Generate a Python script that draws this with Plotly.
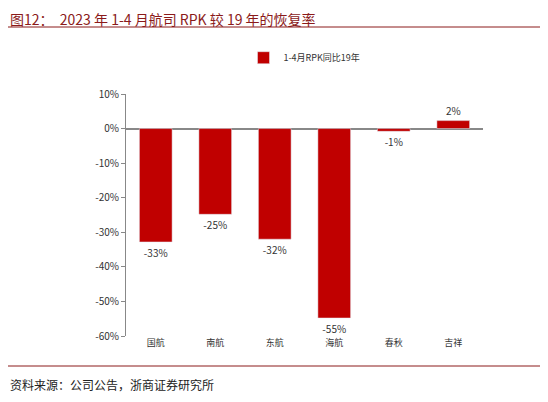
import plotly.graph_objects as go

categories = ["国航", "南航", "东航", "海航", "春秋", "吉祥"]
values = [-32.8, -24.8, -32.0, -54.8, -0.8, 2.3]
labels = ["-33%", "-25%", "-32%", "-55%", "-1%", "2%"]
tickvals = [10, 0, -10, -20, -30, -40, -50, -60]
ticktext = ["10%", "0%", "-10%", "-20%", "-30%", "-40%", "-50%", "-60%"]

fig = go.Figure(go.Bar(
    x=categories, y=values, name="1-4月RPK同比19年",
    marker_color="#C00000", width=0.55,
    text=labels, textposition="outside", cliponaxis=False,
    textfont=dict(size=10, color="#333"), showlegend=True))

fig.update_layout(
    width=548, height=402, paper_bgcolor="white", plot_bgcolor="white",
    margin=dict(l=118, r=73, t=86, b=74),
    font=dict(family="Noto Sans CJK SC", size=10, color="#333"),
    legend=dict(orientation="h", x=0.5, xanchor="center", y=1.15, yanchor="middle",
                font=dict(size=9)),
    xaxis=dict(showline=False, ticks="", tickfont=dict(size=9)),
    yaxis=dict(range=[-60, 10], tickvals=tickvals, ticktext=ticktext,
               showgrid=False, showline=True, linecolor="#888", ticks="outside",
               ticklen=4, tickcolor="#888", zeroline=True, zerolinecolor="#888",
               tickfont=dict(size=10)),
    bargap=0.45,
)
fig.add_annotation(text="图12：  2023 年 1-4 月航司 RPK 较 19 年的恢复率", xref="paper", yref="paper",
                   x=-118/357, y=1.0, xanchor="left", yanchor="bottom", showarrow=False,
                   yshift=63, font=dict(size=14, color="#8B1A1A", family="Noto Sans CJK SC"))
fig.add_shape(type="line", xref="paper", yref="paper", x0=-118/357, x1=1+70/357,
              y0=1+67/242, y1=1+67/242, line=dict(color="#8B1A1A", width=1))
fig.add_shape(type="line", xref="paper", yref="paper", x0=-118/357, x1=1+70/357,
              y0=-30/242, y1=-30/242, line=dict(color="#8B1A1A", width=1))
fig.add_annotation(text="资料来源：公司公告，浙商证券研究所", xref="paper", yref="paper",
                   x=-118/357, y=-48/242, xanchor="left", yanchor="middle", showarrow=False,
                   font=dict(size=12, color="#222", family="Noto Sans CJK SC"))
fig.write_html("out.html")
